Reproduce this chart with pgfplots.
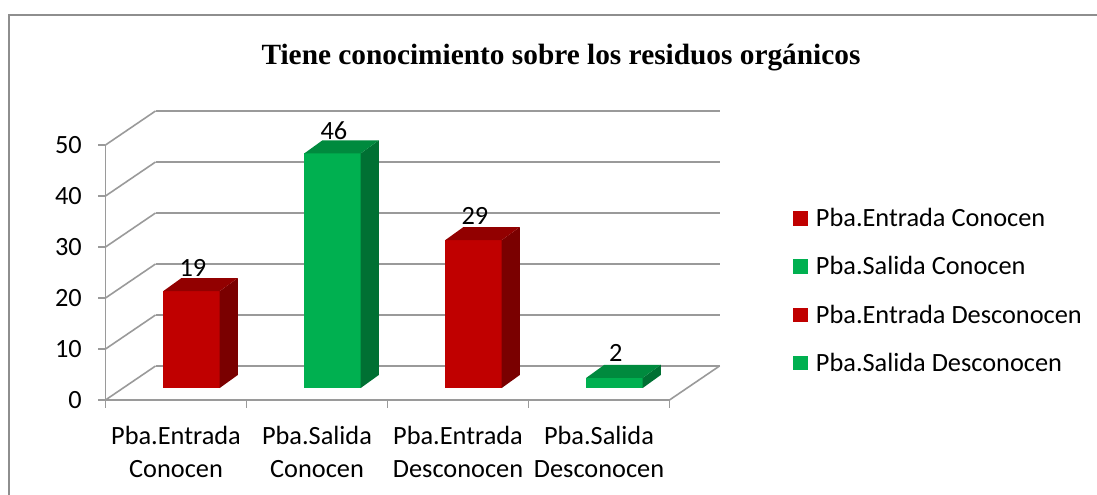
\documentclass[border=0pt]{standalone}
\usepackage{fontspec}
\setmainfont{Carlito}
\newfontfamily\titlefont{Liberation Serif}
\usepackage{pgfplots}
\pgfplotsset{compat=1.18}
\definecolor{redF}{HTML}{C00000}
\definecolor{redT}{HTML}{920000}
\definecolor{redS}{HTML}{7A0000}
\definecolor{greenF}{HTML}{00B050}
\definecolor{greenT}{HTML}{008A3E}
\definecolor{greenS}{HTML}{007033}
\definecolor{gridgray}{HTML}{9A9A9A}
\definecolor{bordergray}{HTML}{8E8E8E}
\begin{document}
\begin{tikzpicture}
\begin{axis}[
  at={(0pt,0pt)}, anchor=origin,
  x=105.75pt, y=3.825pt,
  xmin=-0.5, xmax=3.5, ymin=0, ymax=50,
  clip=false,
  axis lines=left,
  axis line style={-, draw=gridgray, line width=1.2pt},
  every tick/.style={gridgray, line width=1.2pt},
  ytick={0,10,20,30,40,50},
  xtick={0,1,2,3},
  xticklabels={{Pba.Entrada\\Conocen},{Pba.Salida\\Conocen},{Pba.Entrada\\Desconocen},{Pba.Salida\\Desconocen}},
  minor xtick={-0.5,0.5,1.5,2.5,3.5},
  major x tick style={draw=none},
  tick align=outside,
  major tick length=5.25pt,
  minor tick length=6pt,
  /pgf/number format/assume math mode=true,
  tick label style={font=\fontsize{19.75}{25}\selectfont},
  xticklabel style={align=center, inner sep=0pt, anchor=north, yshift=-14pt},
  yticklabel style={inner sep=0pt, anchor=east, xshift=-12.3pt},
  title={Tiene conocimiento sobre los residuos orgánicos},
  title style={at={(axis description cs:0.8076,1.284)}, anchor=base, inner sep=0pt,
    font=\titlefont\bfseries\fontsize{22}{26}\selectfont},
  legend image code/.code={\fill[#1] (0pt,-5.5pt) rectangle (11pt,5.5pt);},
  legend cell align=left,
  legend style={draw=none, fill=none, at={(1.219,0.428)}, anchor=west,
    font=\fontsize{19.75}{25}\selectfont, row sep=20.9pt, column sep=6pt,
    inner sep=0pt, nodes={inner sep=0pt}},
]
% back wall grid lines
\addplot[gridgray, line width=1.2pt, forget plot] coordinates {(-0.145,6.67) (3.855,6.67)};
\addplot[gridgray, line width=1.2pt, forget plot] coordinates {(-0.145,16.67) (3.855,16.67)};
\addplot[gridgray, line width=1.2pt, forget plot] coordinates {(-0.145,26.67) (3.855,26.67)};
\addplot[gridgray, line width=1.2pt, forget plot] coordinates {(-0.145,36.67) (3.855,36.67)};
\addplot[gridgray, line width=1.2pt, forget plot] coordinates {(-0.145,46.67) (3.855,46.67)};
\addplot[gridgray, line width=1.2pt, forget plot] coordinates {(-0.145,56.67) (3.855,56.67)};
% side wall diagonals
\addplot[gridgray, line width=1.2pt, forget plot] coordinates {(-0.5,0) (-0.145,6.67)};
\addplot[gridgray, line width=1.2pt, forget plot] coordinates {(-0.5,10) (-0.145,16.67)};
\addplot[gridgray, line width=1.2pt, forget plot] coordinates {(-0.5,20) (-0.145,26.67)};
\addplot[gridgray, line width=1.2pt, forget plot] coordinates {(-0.5,30) (-0.145,36.67)};
\addplot[gridgray, line width=1.2pt, forget plot] coordinates {(-0.5,40) (-0.145,46.67)};
\addplot[gridgray, line width=1.2pt, forget plot] coordinates {(-0.5,50) (-0.145,56.67)};
\addplot[gridgray, line width=1.2pt, forget plot] coordinates {(3.5,0) (3.855,6.67)};
% bar 1: Pba.Entrada Conocen = 19
\addplot[fill=redF, draw=none, forget plot] coordinates {(-0.09,2.35) (0.31,2.35) (0.31,21.35) (-0.09,21.35)};
\addplot[fill=redS, draw=none, forget plot] coordinates {(0.31,2.35) (0.438,4.9) (0.438,23.9) (0.31,21.35)};
\addplot[fill=redT, draw=none, forget plot] coordinates {(-0.09,21.35) (0.31,21.35) (0.438,23.9) (0.038,23.9)};
% bar 2: Pba.Salida Conocen = 46
\addplot[fill=greenF, draw=none, forget plot] coordinates {(0.91,2.35) (1.31,2.35) (1.31,48.35) (0.91,48.35)};
\addplot[fill=greenS, draw=none, forget plot] coordinates {(1.31,2.35) (1.438,4.9) (1.438,50.9) (1.31,48.35)};
\addplot[fill=greenT, draw=none, forget plot] coordinates {(0.91,48.35) (1.31,48.35) (1.438,50.9) (1.038,50.9)};
% bar 3: Pba.Entrada Desconocen = 29
\addplot[fill=redF, draw=none, forget plot] coordinates {(1.91,2.35) (2.31,2.35) (2.31,31.35) (1.91,31.35)};
\addplot[fill=redS, draw=none, forget plot] coordinates {(2.31,2.35) (2.438,4.9) (2.438,33.9) (2.31,31.35)};
\addplot[fill=redT, draw=none, forget plot] coordinates {(1.91,31.35) (2.31,31.35) (2.438,33.9) (2.038,33.9)};
% bar 4: Pba.Salida Desconocen = 2
\addplot[fill=greenF, draw=none, forget plot] coordinates {(2.91,2.35) (3.31,2.35) (3.31,4.35) (2.91,4.35)};
\addplot[fill=greenS, draw=none, forget plot] coordinates {(3.31,2.35) (3.438,4.9) (3.438,6.9) (3.31,4.35)};
\addplot[fill=greenT, draw=none, forget plot] coordinates {(2.91,4.35) (3.31,4.35) (3.438,6.9) (3.038,6.9)};
% value labels
\addplot[draw=none, mark=none, forget plot, point meta=explicit symbolic,
  nodes near coords, nodes near coords style={anchor=base, inner sep=0pt,
  font=\fontsize{19.75}{25}\selectfont, text=black}]
  coordinates {(0.12,24.3) [19] (1.12,51.1) [46] (2.12,34.4) [29] (3.12,7.6) [2]};
\addlegendimage{fill=redF, draw=none}
\addlegendentry{Pba.Entrada Conocen}
\addlegendimage{fill=greenF, draw=none}
\addlegendentry{Pba.Salida Conocen}
\addlegendimage{fill=redF, draw=none}
\addlegendentry{Pba.Entrada Desconocen}
\addlegendimage{fill=greenF, draw=none}
\addlegendentry{Pba.Salida Desconocen}
\end{axis}
\draw[bordergray, line width=1.5pt] (-124.9pt,289.1pt) rectangle (720pt,-90pt);
\pgfresetboundingbox
\path[use as bounding box] (-132pt,-71.25pt) rectangle (690.75pt,300pt);
\end{tikzpicture}
\end{document}
